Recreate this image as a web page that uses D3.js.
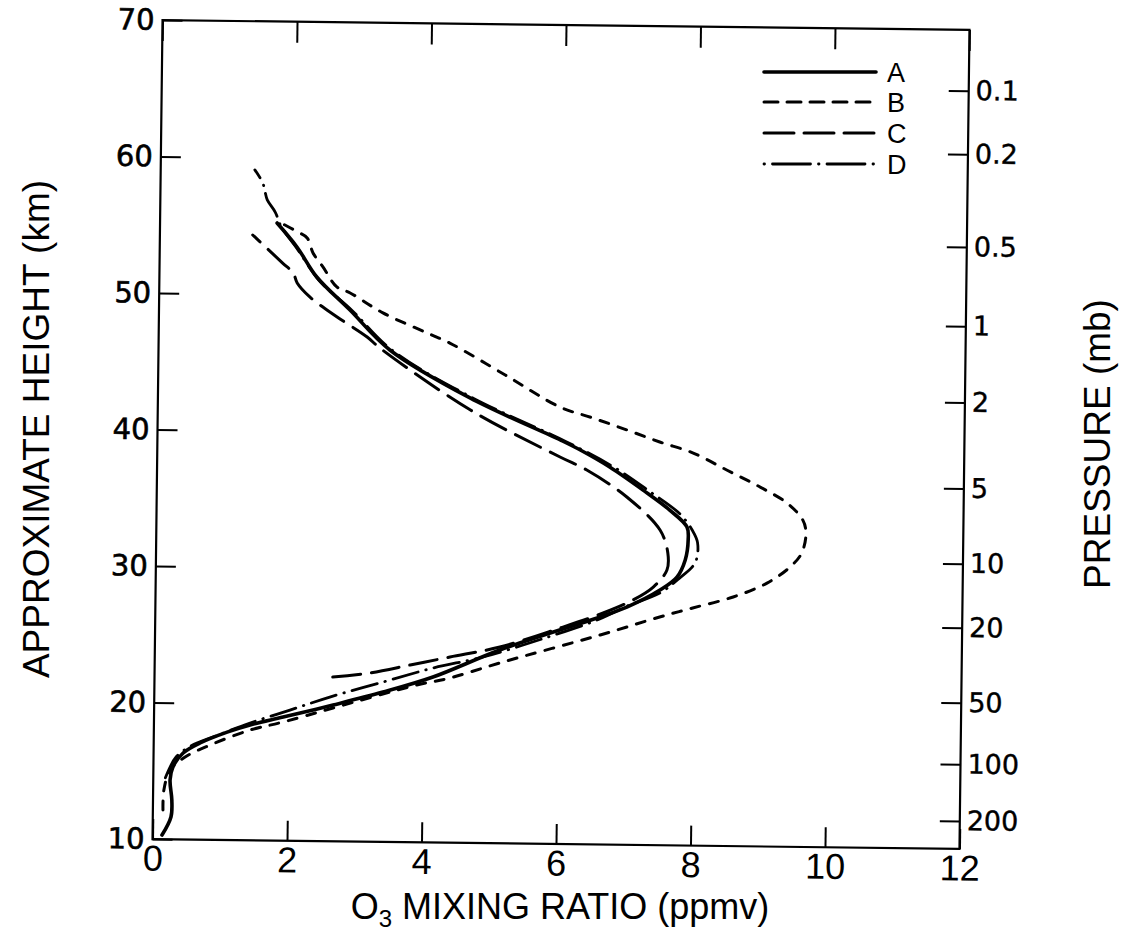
<!DOCTYPE html>
<html>
<head>
<meta charset="utf-8">
<script src="https://cdn.jsdelivr.net/npm/d3@7"></script>
<style>
  html, body { margin: 0; padding: 0; background: #fff; }
  svg { display: block; }
</style>
</head>
<body>
<svg id="chart" width="1130" height="947"></svg>
<script>
// ---------------- data ----------------
const xTicks = [0, 2, 4, 6, 8, 10, 12];
const yTicks = [10, 20, 30, 40, 50, 60, 70];
const pressureLabels = ["0.1", "0.2", "0.5", "1", "2", "5", "10", "20", "50", "100", "200"];
const pressureHeights = [65.55, 60.9, 54.1, 48.3, 42.7, 36.4, 30.9, 26.2, 20.7, 16.2, 12.05];

const seriesNames = ["A", "B", "C", "D"];

const heightA = [10.30, 11.63, 12.88, 14.34, 15.30, 16.33, 17.08, 17.90, 18.44, 19.05, 19.98, 20.97, 22.12, 24.16, 26.67, 27.42, 28.70, 29.66, 30.92, 32.38, 33.33, 34.56, 36.00, 37.66, 38.88, 39.60, 42.60, 46.04, 48.93, 51.32, 53.50, 55.24];
const ozoneA  = [0.14, 0.27, 0.28, 0.25, 0.29, 0.44, 0.69, 1.09, 1.43, 1.92, 2.66, 3.40, 4.14, 5.13, 6.61, 7.01, 7.50, 7.75, 7.87, 7.91, 7.89, 7.63, 7.23, 6.73, 6.29, 5.99, 4.64, 3.44, 2.84, 2.34, 2.04, 1.74];

const heightB = [12.14, 13.60, 15.07, 16.04, 16.94, 18.07, 18.69, 19.76, 21.52, 22.06, 23.21, 25.35, 26.72, 27.41, 28.25, 29.30, 30.50, 31.53, 33.00, 33.96, 35.19, 36.33, 37.55, 38.76, 39.54, 40.39, 41.24, 42.01, 44.31, 46.60, 47.32, 48.75, 50.18, 50.61, 52.06, 53.08, 54.17, 54.60, 55.24];
const ozoneB  = [0.15, 0.16, 0.25, 0.47, 0.84, 1.43, 1.92, 2.66, 3.90, 4.39, 5.13, 6.62, 7.50, 7.99, 8.59, 9.09, 9.43, 9.60, 9.66, 9.61, 9.37, 8.97, 8.47, 7.97, 7.47, 6.98, 6.47, 5.98, 5.16, 4.33, 3.99, 3.33, 2.84, 2.64, 2.43, 2.28, 2.19, 2.05, 1.80];

const heightC = [22.03, 22.36, 22.98, 23.60, 24.38, 25.82, 26.96, 27.94, 28.91, 30.17, 31.41, 33.09, 35.48, 37.42, 38.35, 41.71, 46.18, 46.97, 48.41, 49.85, 50.86, 51.59, 52.31, 54.34];
const ozoneC  = [2.65, 3.20, 3.80, 4.39, 5.13, 6.02, 6.66, 7.10, 7.40, 7.60, 7.61, 7.49, 6.99, 6.39, 5.99, 4.65, 3.29, 3.10, 2.65, 2.24, 2.05, 1.99, 1.83, 1.38];

const heightD = [14.5, 15.3, 16.0, 16.85, 17.6, 18.59, 19.57, 20.56, 21.71, 22.78, 23.63, 25.0, 26.5, 27.55, 28.45, 29.55, 30.75, 32.2, 33.1, 34.3, 35.9, 37.6, 39.5, 42.6, 46.0, 48.9, 51.1, 53.4, 55.0, 56.04, 56.92, 57.43, 58.16, 59.11];
const ozoneD  = [0.18, 0.25, 0.33, 0.55, 0.92, 1.43, 2.02, 2.61, 3.40, 4.14, 4.88, 5.75, 6.60, 7.04, 7.49, 7.78, 8.02, 8.05, 7.97, 7.78, 7.33, 6.81, 6.07, 4.68, 3.48, 2.87, 2.37, 2.04, 1.80, 1.71, 1.59, 1.56, 1.52, 1.40];

// ---------------- layout ----------------
const frame = { left: 157.5, right: 964.5, top: 25, bottom: 844 };
const tilt = 0.7; // scan rotation, degrees
const cx = (frame.left + frame.right) / 2, cy = (frame.top + frame.bottom) / 2;

const styles = {
  A: { width: 3.6, dash: null, legendDash: null },
  B: { width: 3.0, dash: "9,10", legendDash: "14,9" },
  C: { width: 3.0, dash: "28,11", legendDash: "30,10" },
  D: { width: 2.8, dash: "26,8,0.5,8", legendDash: "0.5,8,38,8" }
};

const svg = d3.select("#chart");
const x = d3.scaleLinear().domain([0, 12]).range([frame.left, frame.right]);
const y = d3.scaleLinear().domain([10, 70]).range([frame.bottom, frame.top]);

const g = svg.append("g").attr("transform", `rotate(${tilt},${cx},${cy})`);

const tickFont = "'DejaVu Sans', Verdana, sans-serif";
const textFont = "'Liberation Sans', Arial, Helvetica, sans-serif";

function styleAxis(sel, font, size) {
  sel.select(".domain").remove();
  sel.selectAll(".tick line").attr("stroke", "#000").attr("stroke-width", 2);
  sel.selectAll(".tick text").attr("fill", "#000")
    .style("font-family", font).style("font-size", size + "px");
}

// bottom axis
g.append("g").attr("transform", `translate(0,${frame.bottom})`)
  .call(d3.axisBottom(x).tickValues(xTicks).tickSize(-20).tickSizeOuter(0).tickPadding(6).tickFormat(d3.format("d")))
  .call(s => styleAxis(s, textFont, 36));
// top axis (ticks only)
g.append("g").attr("transform", `translate(0,${frame.top})`)
  .call(d3.axisTop(x).tickValues(xTicks).tickSize(-21).tickSizeOuter(0).tickFormat(""))
  .call(s => styleAxis(s, textFont, 10));
// left axis
g.append("g").attr("transform", `translate(${frame.left},0)`)
  .call(d3.axisLeft(y).tickValues(yTicks).tickSize(-20).tickSizeOuter(0).tickPadding(8).tickFormat(d3.format("d")))
  .call(s => styleAxis(s, tickFont, 29))
  .call(s => s.selectAll(".tick text").attr("stroke", "#000").attr("stroke-width", 0.6));
// right pressure axis
g.append("g").attr("transform", `translate(${frame.right},0)`)
  .call(d3.axisRight(y).tickValues(pressureHeights).tickSize(-20).tickSizeOuter(0).tickPadding(7)
        .tickFormat((d, i) => pressureLabels[i]))
  .call(s => styleAxis(s, tickFont, 27))
  .call(s => s.selectAll(".tick text").attr("stroke", "#000").attr("stroke-width", 0.4));

// frame
g.append("rect")
  .attr("x", frame.left).attr("y", frame.top)
  .attr("width", frame.right - frame.left).attr("height", frame.bottom - frame.top)
  .attr("fill", "none").attr("stroke", "#000").attr("stroke-width", 2.2);

// curves
const seriesData = {
  A: heightA.map((h, i) => ({ h, v: ozoneA[i] })),
  B: heightB.map((h, i) => ({ h, v: ozoneB[i] })),
  C: heightC.map((h, i) => ({ h, v: ozoneC[i] })),
  D: heightD.map((h, i) => ({ h, v: ozoneD[i] }))
};
const line = d3.line().x(d => x(d.v)).y(d => y(d.h)).curve(d3.curveCatmullRom.alpha(0.5));

seriesNames.forEach(name => {
  const st = styles[name];
  g.append("path")
    .datum(seriesData[name])
    .attr("d", line)
    .attr("fill", "none")
    .attr("stroke", "#000")
    .attr("stroke-width", st.width)
    .attr("stroke-linecap", "round")
    .attr("stroke-linejoin", "round")
    .attr("stroke-dasharray", st.dash);
});

// legend
const legend = svg.append("g");
const legendY = [72, 102, 133, 164];
seriesNames.forEach((name, i) => {
  const st = styles[name];
  legend.append("line")
    .attr("x1", 764).attr("x2", 876)
    .attr("y1", legendY[i]).attr("y2", legendY[i])
    .attr("stroke", "#000")
    .attr("stroke-width", st.width)
    .attr("stroke-linecap", "round")
    .attr("stroke-dasharray", st.legendDash);
  legend.append("text")
    .attr("x", 887).attr("y", legendY[i] + 10)
    .style("font-family", textFont).style("font-size", "27px")
    .text(name);
});

// axis titles
const xt = svg.append("text")
  .attr("x", 560).attr("y", 919)
  .attr("text-anchor", "middle")
  .style("font-family", textFont).style("font-size", "36px");
xt.append("tspan").text("O");
xt.append("tspan").attr("dy", 8).style("font-size", "24px").text("3");
xt.append("tspan").attr("dy", -8).text(" MIXING RATIO (ppmv)");

svg.append("text")
  .attr("transform", "translate(49,429) rotate(-90)")
  .attr("text-anchor", "middle")
  .style("font-family", textFont).style("font-size", "37px")
  .text("APPROXIMATE HEIGHT (km)");

svg.append("text")
  .attr("transform", "translate(1110,444) rotate(-90)")
  .attr("text-anchor", "middle")
  .style("font-family", textFont).style("font-size", "37px")
  .text("PRESSURE (mb)");
</script>
</body>
</html>
